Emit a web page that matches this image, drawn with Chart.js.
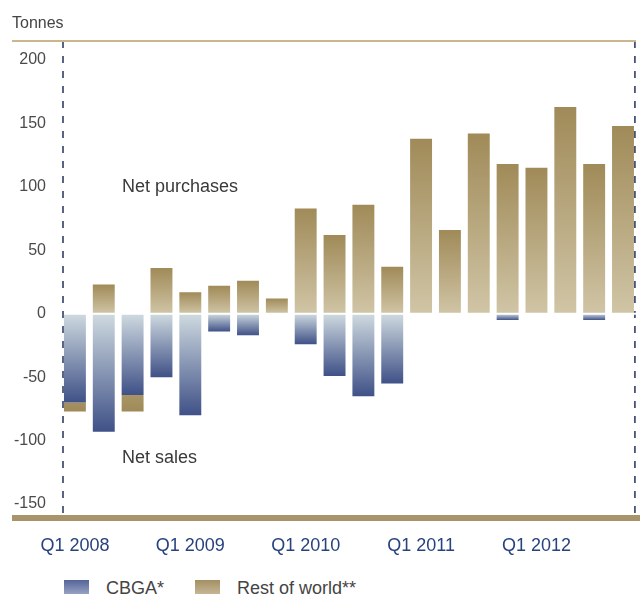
<!DOCTYPE html>
<html>
<head>
<meta charset="utf-8">
<script src="https://cdn.jsdelivr.net/npm/chart.js@4/dist/chart.umd.min.js"></script>
<style>
  html, body { margin: 0; padding: 0; background: #fff; overflow: hidden; }
  #wrap { position: relative; width: 640px; height: 594px; font-family: "Liberation Sans", Arial, sans-serif; }
  #legend { position: absolute; left: 64px; top: 580px; display: flex; align-items: flex-start; font-size: 18px; color: #444; }
  .swatch { width: 25px; height: 20px; margin-right: 17px; }
  .item { display: flex; align-items: flex-start; margin-right: 31px; line-height: 20px; }
  .item span { margin-top: -2px; }
</style>
</head>
<body>
<div id="wrap">
  <canvas id="myChart" width="640" height="560"></canvas>
  <div id="legend">
    <div class="item"><div class="swatch" style="background:linear-gradient(#55639a,#b3bdd2)"></div><span>CBGA*</span></div>
    <div class="item"><div class="swatch" style="background:linear-gradient(#a48f62,#d2c7ab)"></div><span>Rest of world**</span></div>
  </div>
</div>
<script>
const quarters = [
  "Q1 2008", "Q2 2008", "Q3 2008", "Q4 2008",
  "Q1 2009", "Q2 2009", "Q3 2009", "Q4 2009",
  "Q1 2010", "Q2 2010", "Q3 2010", "Q4 2010",
  "Q1 2011", "Q2 2011", "Q3 2011", "Q4 2011",
  "Q1 2012", "Q2 2012", "Q3 2012", "Q4 2012"
]
const cbga = [-70, -93, -64, -50, -80, -14, -17, 0, -24, -49, -65, -55, 0, 0, 0, -5, 0, 0, -5, 0]
const restOfWorld = [-7, 23, -13, 36, 17, 22, 26, 12, 83, 62, 86, 37, 138, 66, 142, 118, 115, 163, 118, 148]
const yTicks = [-150, -100, -50, 0, 50, 100, 150, 200]

// gradient runs from light at zero to dark at the far end of the stack
function barFill(light, dark) {
  return function (c) {
    if (c.type !== 'data') return dark
    const chart = c.chart
    const y = chart.scales.y
    if (!y || !chart.chartArea) return dark
    const i = c.dataIndex
    let end = c.dataset.data[i]
    if (c.datasetIndex === 1 && end < 0) end += cbga[i]
    const y0 = y.getPixelForValue(0)
    const y1 = y.getPixelForValue(end)
    if (y0 === y1) return dark
    const g = chart.ctx.createLinearGradient(0, y0, 0, y1)
    g.addColorStop(0, light)
    g.addColorStop(1, dark)
    return g
  }
}

const frame = {
  id: 'frame',
  beforeDatasetsDraw(chart) {
    const { ctx, chartArea } = chart
    ctx.save()
    ctx.strokeStyle = '#22305e'
    ctx.lineWidth = 1.5
    ctx.setLineDash([7, 8])
    const xs = [chartArea.left + 2.5, chartArea.right - 2.5]
    xs.forEach(x => {
      ctx.beginPath()
      ctx.moveTo(x, chartArea.top)
      ctx.lineTo(x, chartArea.bottom)
      ctx.stroke()
    })
    ctx.restore()
  },
  afterDatasetsDraw(chart) {
    const { ctx, chartArea } = chart
    const y = chart.scales.y
    const y0 = y.getPixelForValue(0)
    ctx.save()
    // thin white gap between purchases and sales
    ctx.fillStyle = '#fff'
    ctx.fillRect(chartArea.left + 3.5, y0 - 1, chartArea.right - chartArea.left - 3.5, 2)

    ctx.fillStyle = '#c9b88e'
    ctx.fillRect(12, chartArea.top - 1, 624, 2)
    ctx.fillStyle = '#a8946a'
    ctx.fillRect(12, chartArea.bottom - 3, 628, 6)

    ctx.font = '16px "Liberation Sans", Arial, sans-serif'
    ctx.fillStyle = '#444'
    ctx.textBaseline = 'alphabetic'
    ctx.fillText('Tonnes', 12, 28)

    ctx.font = '18px "Liberation Sans", Arial, sans-serif'
    ctx.fillStyle = '#3a3a3a'
    ctx.textBaseline = 'middle'
    ctx.fillText('Net purchases', 122, y.getPixelForValue(100))
    ctx.fillText('Net sales', 122, y.getPixelForValue(-114))
    ctx.restore()
  }
}

new Chart(document.getElementById('myChart'), {
  type: 'bar',
  data: {
    labels: quarters,
    datasets: [
      {
        label: 'CBGA*',
        data: cbga,
        backgroundColor: barFill('#cfdae0', '#3f5187'),
        borderWidth: 0
      },
      {
        label: 'Rest of world**',
        data: restOfWorld,
        backgroundColor: barFill('#d0c5a6', '#a08a58'),
        borderWidth: 0
      }
    ]
  },
  options: {
    responsive: false,
    animation: false,
    barPercentage: 0.76,
    categoryPercentage: 1,
    layout: { padding: { top: 41, left: 0, right: 0, bottom: 0 } },
    plugins: {
      legend: { display: false },
      tooltip: { enabled: false }
    },
    scales: {
      x: {
        stacked: true,
        grid: { display: false, drawTicks: false },
        border: { display: false },
        ticks: {
          autoSkip: false,
          maxRotation: 0,
          padding: 17,
          color: '#27427e',
          font: { family: '"Liberation Sans", Arial, sans-serif', size: 18 },
          callback: function (value, index) {
            return index % 4 === 0 ? quarters[index] : ''
          }
        },
        afterFit(scale) { scale.height = 42 }
      },
      y: {
        stacked: true,
        min: -161,
        max: 215,
        grid: { display: false, drawTicks: false },
        border: { display: false },
        ticks: {
          padding: 14.5,
          color: '#4a4a4a',
          font: { family: '"Liberation Sans", Arial, sans-serif', size: 16 }
        },
        afterBuildTicks(axis) { axis.ticks = yTicks.map(v => ({ value: v })) },
        afterFit(scale) { scale.width = 60.5 }
      }
    }
  },
  plugins: [frame]
})
</script>
</body>
</html>
